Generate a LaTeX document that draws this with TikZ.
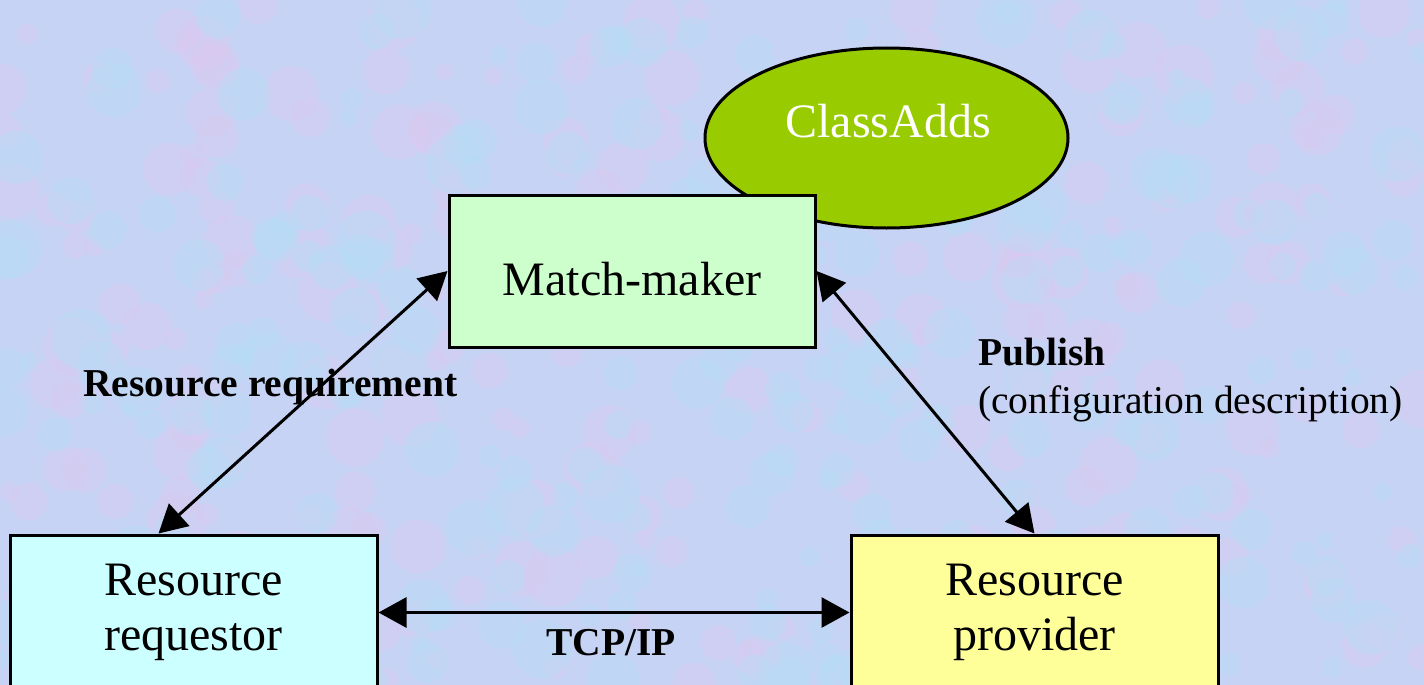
\documentclass[tikz,border=0pt]{standalone}
\usepackage{fontspec}
\setmainfont{Liberation Serif}
\usetikzlibrary{arrows.meta,shapes.geometric}
\definecolor{bg}{RGB}{198,211,244}
\definecolor{bgpink}{RGB}{222,200,240}
\definecolor{bgcyan}{RGB}{180,222,246}
\definecolor{classfill}{RGB}{153,204,0}
\definecolor{mmfill}{RGB}{204,255,204}
\definecolor{reqfill}{RGB}{204,255,255}
\definecolor{provfill}{RGB}{255,255,153}
\tikzset{
  box/.style={draw=black, line width=3pt, inner sep=0pt, align=center,
    font=\fontsize{48}{55}\selectfont},
  lbl/.style={inner sep=0pt, font=\fontsize{39.5}{48}\selectfont},
  dbl/.style={line width=3pt, {Triangle[length=28pt,width=30pt]}-{Triangle[length=28pt,width=30pt]}}
}
\begin{document}
\begin{tikzpicture}[x=1pt,y=-1pt]
\clip (0,0) rectangle (1424,685);
\fill[bg] (0,0) rectangle (1424,685);
% background texture
\pgfmathsetseed{7}
\foreach \i in {1,...,260}{
  \pgfmathsetmacro{\px}{rnd*1424}
  \pgfmathsetmacro{\py}{rnd*685}
  \pgfmathsetmacro{\pr}{8+rnd*22}
  \fill[bgpink, opacity=0.35] (\px,\py) circle[radius=\pr];
}
\foreach \i in {1,...,260}{
  \pgfmathsetmacro{\px}{rnd*1424}
  \pgfmathsetmacro{\py}{rnd*685}
  \pgfmathsetmacro{\pr}{8+rnd*22}
  \fill[bgcyan, opacity=0.35] (\px,\py) circle[radius=\pr];
}
% ClassAdds ellipse
\node[ellipse, draw=black, line width=3pt, fill=classfill, minimum width=363pt, minimum height=180pt, inner sep=0pt] (cls) at (886.5,138) {};
\node[inner sep=0pt, text=white, font=\fontsize{48}{55}\selectfont] (clstext) at (888,121) {ClassAdds};
% boxes
\node[box, fill=mmfill, minimum width=366pt, minimum height=152pt, text height=49pt, text depth=0pt] (mm) at (632,271) {Match-maker};
\node[box, fill=reqfill, minimum width=367pt, minimum height=155pt] (req) at (193.5,612.5) {Resource\\requestor};
\node[box, fill=provfill, minimum width=367pt, minimum height=155pt] (prov) at (1034.5,612.5) {Resource\\provider};
% connectors
\draw[dbl] (mm.west) -- ([xshift=150pt]req.north west);
\draw[dbl] (mm.east) -- (prov.north);
\draw[dbl] (req.east) -- (prov.west);
% labels
\node[lbl, anchor=west] (rr) at (83,387) {\textbf{Resource requirement}};
\node[lbl, anchor=west, align=left] (pub) at (978,380) {\textbf{Publish}\\(configuration description)};
\node[lbl] (tcp) at (611,643) {\textbf{TCP/IP}};
\end{tikzpicture}
\end{document}
